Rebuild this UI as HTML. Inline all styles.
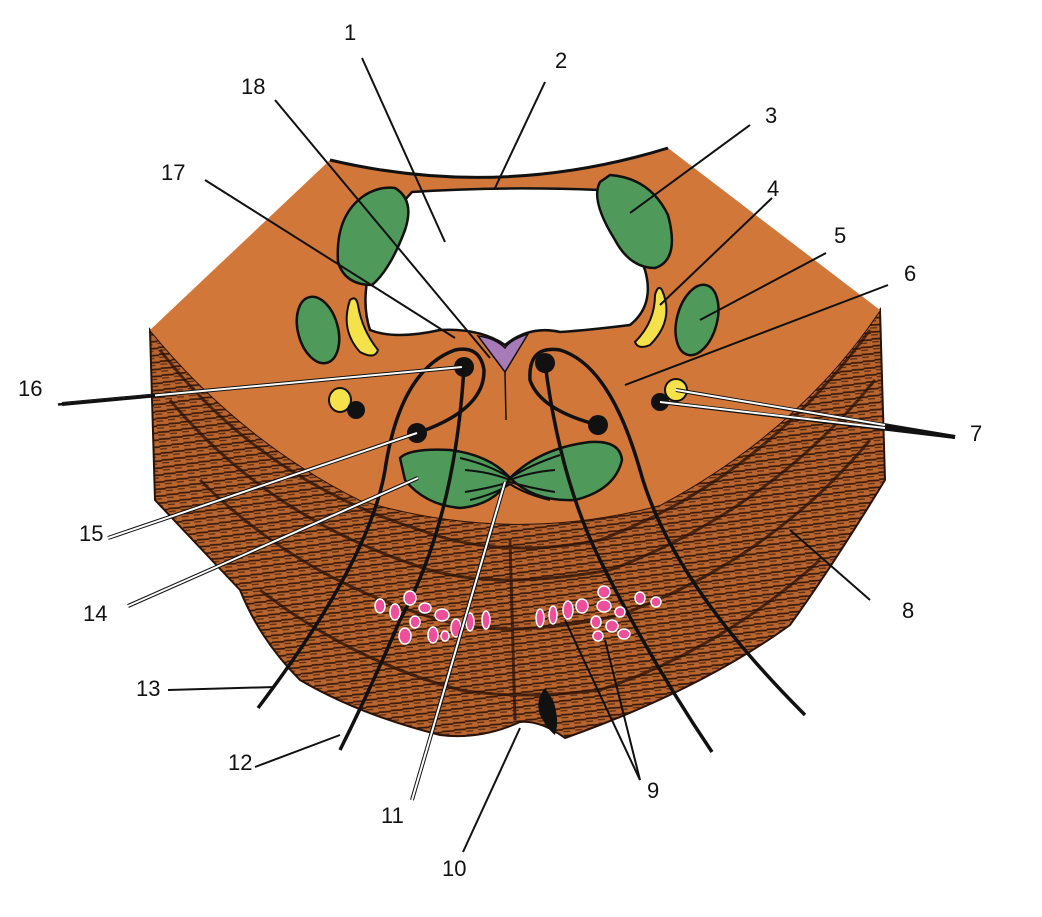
<!DOCTYPE html>
<html><head><meta charset="utf-8"><style>
html,body{margin:0;padding:0;background:#fff}
svg{display:block}
text{font-family:"Liberation Sans",sans-serif;font-size:22px;fill:#111}
</style></head><body>
<svg width="1042" height="917" viewBox="0 0 1042 917">
<defs>
<pattern id="fib" width="12" height="7" patternUnits="userSpaceOnUse" patternTransform="rotate(-8)">
<rect width="12" height="7" fill="#b8652f"/>
<path d="M0 2 L12 3" stroke="#3a1a0a" stroke-width="1.8"/>
<path d="M0 5 L7 5.5" stroke="#5a2a10" stroke-width="1.2"/>
</pattern>
</defs>
<path d="M150 330 Q240 440 360 500 Q510 545 660 505 Q800 430 880 310 L885 480 Q830 570 790 625 Q700 690 565 738 Q540 720 520 722 Q480 740 440 735 Q360 715 300 680 Q260 640 240 590 L155 500 Z" fill="url(#fib)" stroke="#2a1208" stroke-width="2"/>
<g stroke="#2a1208" stroke-width="3" fill="none" opacity="0.75">
<path d="M160 350 Q260 480 420 530 Q500 560 600 540 Q760 480 870 330"/>
<path d="M170 400 Q270 520 430 570 Q500 590 610 570 Q770 510 875 380"/>
<path d="M200 480 Q300 580 440 620 Q510 640 620 615 Q770 560 870 440"/>
<path d="M260 590 Q350 660 460 690 Q520 700 600 690 Q720 650 820 560"/>
<path d="M510 540 L515 720"/>
</g>
<path d="M330 160 Q500 200 668 148 L880 310 Q800 430 660 505 Q510 545 360 500 Q240 440 150 330 Z" fill="#d2773a"/>
<path d="M330 160 Q500 200 668 148" fill="none" stroke="#111" stroke-width="3"/>
<path d="M412 192 Q500 186 600 190 Q630 230 645 270 Q655 305 630 325 Q590 330 560 332 Q530 325 505 345 Q480 328 440 330 Q395 340 370 330 Q360 300 372 260 Q390 215 412 192 Z" fill="#fff" stroke="#111" stroke-width="2.5"/>
<path d="M478 336 L505 372 L528 334 Q510 340 505 348 Q495 338 478 336 Z" fill="#a77ab8" stroke="#111" stroke-width="1.5"/>
<g fill="#4f9a5a" stroke="#111" stroke-width="2.5">
<path d="M395 188 Q415 200 405 230 Q390 270 372 285 Q345 285 338 262 Q335 215 365 195 Q380 186 395 188 Z"/>
<path d="M610 175 Q650 178 668 215 Q680 260 655 268 Q630 268 615 240 Q590 200 600 182 Z"/>
<ellipse cx="318" cy="330" rx="20" ry="34" transform="rotate(-15 318 330)"/>
<ellipse cx="697" cy="320" rx="20" ry="36" transform="rotate(15 697 320)"/>
<path d="M400 458 Q410 448 450 450 Q490 455 510 478 Q495 505 460 508 Q425 505 405 480 Z"/>
<path d="M510 478 Q540 448 590 442 Q620 440 622 460 Q615 490 575 500 Q535 502 510 478 Z"/>
</g>
<g stroke="#111" stroke-width="2" fill="none">
<path d="M460 458 Q490 465 510 478 M465 470 Q490 472 510 480 M465 492 Q490 488 510 482 M470 500 Q495 494 510 484"/>
<path d="M560 455 Q530 465 510 478 M555 470 Q530 472 510 480 M555 492 Q530 488 510 482 M550 500 Q525 494 510 484"/>
</g>
<g fill="#f5e14a" stroke="#111" stroke-width="2">
<path d="M350 300 Q340 330 360 352 Q375 360 378 350 Q362 330 358 305 Q356 295 350 300 Z"/>
<path d="M662 290 Q675 320 650 345 Q638 350 635 342 Q655 322 655 295 Q658 284 662 290 Z"/>
<ellipse cx="340" cy="400" rx="11" ry="12"/>
<ellipse cx="676" cy="390" rx="11" ry="11"/>
</g>
<g fill="#111">
<circle cx="356" cy="410" r="9"/>
<circle cx="464" cy="367" r="10"/>
<circle cx="417" cy="433" r="10"/>
<circle cx="545" cy="363" r="10"/>
<circle cx="598" cy="425" r="10"/>
<circle cx="660" cy="402" r="9"/>
</g>
<g stroke="#111" stroke-width="3.5" fill="none">
<path d="M417 433 Q485 410 484 370 Q480 345 455 350 Q400 370 385 470 Q370 560 258 708"/>
<path d="M464 367 Q455 520 400 620 Q370 690 340 750"/>
<path d="M598 425 Q540 410 530 380 Q528 345 560 350 Q610 365 640 470 Q670 580 805 715"/>
<path d="M545 363 Q560 480 600 560 Q650 660 712 752"/>
<path d="M505 372 L506 420" stroke-width="1.5"/>
</g>
<g fill="#ee4f9a" stroke="#fff" stroke-width="1.5">
<ellipse cx="380" cy="606" rx="5" ry="7"/><ellipse cx="395" cy="612" rx="5" ry="8"/><ellipse cx="410" cy="598" rx="6" ry="7"/>
<ellipse cx="425" cy="608" rx="6" ry="5"/><ellipse cx="442" cy="615" rx="7" ry="6"/><ellipse cx="415" cy="622" rx="5" ry="6"/>
<ellipse cx="405" cy="636" rx="6" ry="8"/><ellipse cx="433" cy="635" rx="5" ry="8"/><ellipse cx="456" cy="628" rx="5" ry="9"/>
<ellipse cx="470" cy="622" rx="4" ry="9"/><ellipse cx="486" cy="620" rx="4" ry="9"/><ellipse cx="445" cy="636" rx="4" ry="5"/>
<ellipse cx="540" cy="618" rx="4" ry="9"/><ellipse cx="553" cy="615" rx="4" ry="9"/><ellipse cx="568" cy="610" rx="5" ry="9"/>
<ellipse cx="582" cy="606" rx="6" ry="7"/><ellipse cx="604" cy="592" rx="6" ry="6"/><ellipse cx="604" cy="606" rx="7" ry="6"/>
<ellipse cx="620" cy="612" rx="5" ry="5"/><ellipse cx="596" cy="622" rx="5" ry="6"/><ellipse cx="612" cy="626" rx="6" ry="6"/>
<ellipse cx="624" cy="634" rx="6" ry="5"/><ellipse cx="598" cy="636" rx="5" ry="5"/><ellipse cx="640" cy="598" rx="5" ry="6"/><ellipse cx="656" cy="602" rx="5" ry="5"/>
</g>
<path d="M545 688 Q535 700 540 715 Q548 730 555 735 Q560 720 553 700 Z" fill="#111"/>
<g stroke="#111" stroke-width="2" fill="none">
<path d="M362 58 L445 242"/><path d="M545 82 L495 188"/><path d="M750 125 L630 213"/>
<path d="M772 198 L660 305"/><path d="M826 253 L700 320"/><path d="M888 285 L625 385"/>
<path d="M275 100 L490 358"/><path d="M205 180 L455 338"/>
<path d="M168 690 L275 687"/><path d="M255 767 L340 735"/>
<path d="M463 852 L520 728"/><path d="M640 780 L605 640"/><path d="M640 780 L565 620"/>
<path d="M870 600 L790 530"/>
</g>
<g fill="none">
<g stroke="#111" stroke-width="4">
<path d="M62 404 L462 367"/><path d="M108 538 L417 433"/><path d="M128 606 L418 478"/>
<path d="M676 390 L955 437"/><path d="M660 402 L955 437"/>
<path d="M412 800 L505 482"/>
</g>
<g stroke="#fff" stroke-width="2">
<path d="M62 404 L462 367"/><path d="M108 538 L417 433"/><path d="M128 606 L418 478"/>
<path d="M676 390 L885 425"/><path d="M660 402 L885 428"/>
<path d="M412 800 L505 482"/>
</g>
<path d="M58 404.5 L155 395.5" stroke="#111" stroke-width="2.5"/>
</g>
<text x="344" y="40">1</text>
<text x="555" y="68">2</text>
<text x="765" y="123">3</text>
<text x="767" y="196">4</text>
<text x="834" y="243">5</text>
<text x="904" y="281">6</text>
<text x="970" y="441">7</text>
<text x="902" y="618">8</text>
<text x="647" y="798">9</text>
<text x="442" y="876">10</text>
<text x="381" y="823">11</text>
<text x="228" y="770">12</text>
<text x="136" y="696">13</text>
<text x="83" y="621">14</text>
<text x="79" y="541">15</text>
<text x="18" y="396">16</text>
<text x="161" y="180">17</text>
<text x="241" y="94">18</text>
</svg>
</body></html>
